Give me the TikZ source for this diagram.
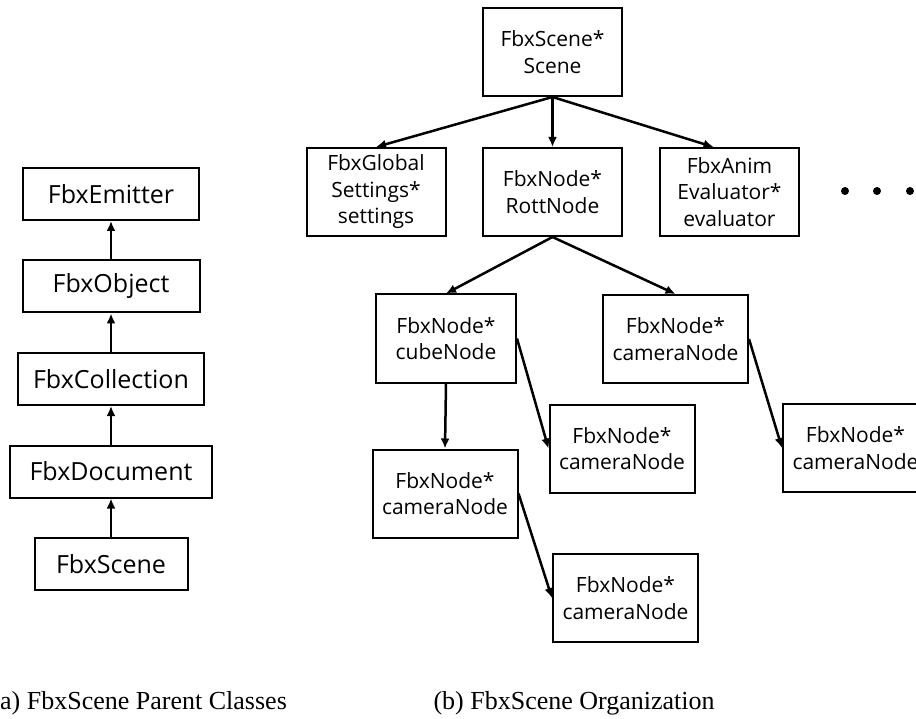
\documentclass[tikz,border=0pt]{standalone}
\usepackage{fontspec}
\setmainfont{Liberation Serif}
\newfontfamily\boxfont{Open Sans}
\usetikzlibrary{arrows,arrows.meta,shapes}
\usetikzlibrary{calc}

\tikzset{
  cls/.style={draw, line width=2pt, font=\boxfont\fontsize{25}{30}\selectfont, inner sep=0pt, minimum height=52},
  member/.style={draw, line width=2pt, font=\boxfont\fontsize{21}{26.5}\selectfont, align=center, inner sep=0pt, minimum height=88},
  link/.style={-{Latex[length=10pt, width=9pt]}, line width=2.5pt},
  captext/.style={anchor=base west, font=\fontsize{26}{30}\selectfont},
}

\begin{document}
\begin{tikzpicture}[x=1pt, y=-1pt]

  \useasboundingbox (0,0) rectangle (916,719);

	%parent classes
 \def\cx{111};
 \def\dy{92.5};
    \foreach \i/\txt/\name/\w in {0/FbxEmitter/emt/176, 1/FbxObject/obj/177, 2/FbxCollection/col/186, 3/FbxDocument/doc/202, 4/FbxScene/scn/153}{
         \node[cls, minimum width=\w] (\name) at (\cx, 194+\dy*\i) {\txt};
    }
    \foreach \a/\b in {emt/obj, obj/col, col/doc, doc/scn}{
         \draw[link] (\b) -- (\a);
    }

	%scene organization
    \node[member, minimum width=139] (scene) at (552.5, 52) {FbxScene*\\Scene};

    \foreach \x/\txt/\name in {376/FbxGlobal\\Settings*\\settings/glob, 552.5/FbxNode*\\RottNode/root, 729.5/FbxAnim\\Evaluator*\\evaluator/anim}{
         \node[member, minimum width=139] (\name) at (\x, 192) {\txt};
    }

    \node[member, minimum width=140] (cube) at (446, 338.5) {FbxNode*\\cubeNode};
    \foreach \x/\y/\name in {675.5/339/camA, 445/493.5/camB, 622/448.5/camC, 625.5/598/camD, 855.5/448/camE}{
         \node[member, minimum width=145] (\name) at (\x, \y) {FbxNode*\\cameraNode};
    }

    \draw[link] (scene.south) -- (glob.north);
    \draw[link] (scene.south) -- (root.north);
    \draw[link] (scene.south) -- ([xshift=-16]anim.north);
    \draw[link] (root.south) -- (cube.north);
    \draw[link] (root.south) -- (camA.north);
    \draw[link] (cube.south) -- (camB.north);
    \draw[link] (cube.east) -- (camC.west);
    \draw[link] (camB.east) -- (camD.west);
    \draw[link] (camA.east) -- (camE.west);

    %more children
    \foreach \x in {845, 877, 910}{
         \fill (\x, 191) circle (4);
    }

	%captions
    \node[captext] (capa) at (-12, 709) {(a) FbxScene Parent Classes};
    \node[captext] (capb) at (430, 709) {(b) FbxScene Organization};

\end{tikzpicture}
\end{document}
